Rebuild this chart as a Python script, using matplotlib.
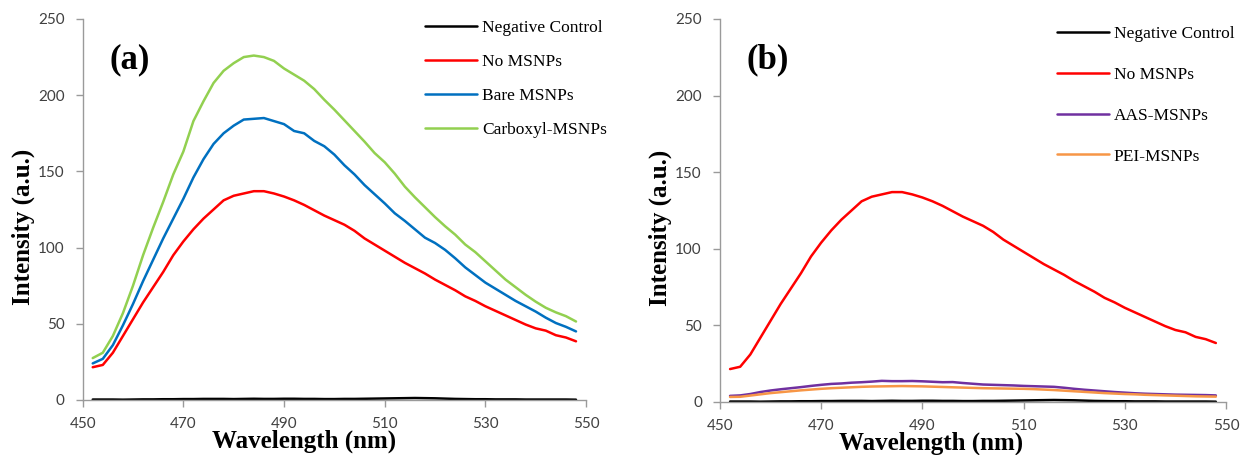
"""Fluorescence emission spectra: (a) bare/carboxyl MSNPs, (b) AAS/PEI MSNPs."""

import matplotlib
matplotlib.use("Agg")
import matplotlib.pyplot as plt


WAVELENGTH = list(range(452, 549, 2))

NEGATIVE_CONTROL = [
    0.3, 0.3, 0.3, 0.2, 0.3, 0.4, 0.4, 0.5, 0.5, 0.6, 0.6, 0.7, 0.7, 0.7, 0.6, 0.7, 0.8,
    0.7, 0.7, 0.8, 0.8, 0.7, 0.7, 0.6, 0.6, 0.7, 0.7, 0.8, 0.9, 1.0, 1.1, 1.2, 1.3,
    1.2, 1.1, 0.9, 0.7, 0.6, 0.5, 0.5, 0.4, 0.4, 0.4, 0.3, 0.3, 0.3, 0.3, 0.3, 0.2,
]
NO_MSNPS = [
    21.5, 23, 31, 42, 53, 64, 74, 84, 95, 104, 112, 119, 125, 131, 134, 135.5, 137,
    137, 135.5, 133.5, 131, 128, 124.5, 121, 118, 115, 111, 106, 102, 98, 94, 90, 86.5,
    83, 79, 75.5, 72, 68, 65, 61.5, 58.5, 55.5, 52.5, 49.5, 47, 45.5, 42.5, 41, 38.5,
]
BARE_MSNPS = [
    24, 27, 36, 49, 63, 78, 92, 106, 119, 132, 146, 158, 168, 175, 180, 184, 184.5,
    185, 183, 181, 176.5, 175, 170, 166.5, 161, 154, 148, 141, 135, 129, 122.5, 117.5, 112,
    106.5, 103, 98.5, 93, 87, 82, 77, 73, 69, 65, 61.5, 58, 54, 50.5, 48, 45,
]
CARBOXYL_MSNPS = [
    27.5, 31, 42, 57, 75, 95, 113, 130, 148, 163, 183, 196, 208, 216, 221, 225, 226,
    225, 222.5, 217.5, 213.5, 209.5, 204, 197, 190.5, 183.5, 176.5, 169.5, 162, 156, 148.5, 140, 133,
    126.5, 120, 114, 108.5, 102, 97, 91, 85, 79, 74, 69, 64.5, 60.5, 57.5, 55, 51.5,
]
AAS_MSNPS = [
    4, 4.3, 5.2, 6.5, 7.5, 8.3, 9, 9.7, 10.5, 11.2, 11.8, 12.1, 12.6, 12.9, 13.3, 13.8, 13.6,
    13.6, 13.7, 13.5, 13.2, 12.9, 13, 12.4, 11.9, 11.4, 11.2, 11, 10.8, 10.5, 10.3, 10.1, 9.9,
    9.3, 8.6, 8, 7.5, 7, 6.5, 6.1, 5.7, 5.4, 5.2, 5, 4.8, 4.7, 4.6, 4.5, 4.3,
]
PEI_MSNPS = [
    3.3, 3.4, 4.2, 5, 5.8, 6.4, 7, 7.6, 8.1, 8.6, 9, 9.3, 9.6, 9.9, 10.1, 10.2, 10.3,
    10.4, 10.3, 10.2, 10, 9.8, 9.6, 9.4, 9.2, 9, 8.9, 8.8, 8.7, 8.6, 8.4, 8.1, 7.8,
    7.4, 7, 6.6, 6.2, 5.8, 5.5, 5.2, 5, 4.7, 4.5, 4.3, 4.1, 3.9, 3.7, 3.6, 3.5,
]

PANEL_A = [
    ("Negative Control", NEGATIVE_CONTROL, "#000000"),
    ("No MSNPs", NO_MSNPS, "#FF0000"),
    ("Bare MSNPs", BARE_MSNPS, "#0070C0"),
    ("Carboxyl-MSNPs", CARBOXYL_MSNPS, "#92D050"),
]
PANEL_B = [
    ("Negative Control", NEGATIVE_CONTROL, "#000000"),
    ("No MSNPs", NO_MSNPS, "#FF0000"),
    ("AAS-MSNPs", AAS_MSNPS, "#7030A0"),
    ("PEI-MSNPs", PEI_MSNPS, "#F79646"),
]

X_TICKS = [450, 470, 490, 510, 530, 550]
Y_TICKS = [0, 50, 100, 150, 200, 250]

SERIF = ["Liberation Serif", "DejaVu Serif"]
SPINE_GREY = "#9A9A9A"


def _draw_panel(fig, rect, series, tag, xlabel_x, legend_anchor, label_spacing):
    ax = fig.add_axes(rect)
    for label, values, color in series:
        ax.plot(WAVELENGTH, values, color=color, lw=1.8, label=label,
                clip_on=False, solid_capstyle="round")

    ax.set_xlim(450, 550)
    ax.set_ylim(0, 250)
    ax.set_xticks(X_TICKS)
    ax.set_yticks(Y_TICKS)
    for side in ("top", "right"):
        ax.spines[side].set_visible(False)
    for side in ("left", "bottom"):
        ax.spines[side].set_color(SPINE_GREY)
        ax.spines[side].set_linewidth(1.0)
    ax.tick_params(axis="both", direction="out", length=5, width=1.0, color=SPINE_GREY,
                   labelsize=11, labelcolor="#404040")
    ax.tick_params(axis="y", pad=8)
    ax.tick_params(axis="x", pad=7)
    for lbl in ax.get_xticklabels() + ax.get_yticklabels():
        lbl.set_family("Lato")

    ax.set_xlabel("Wavelength (nm)", family=SERIF, weight="bold", fontsize=18)
    ax.set_ylabel("Intensity (a.u.)", family=SERIF, weight="bold", fontsize=18)
    ax.xaxis.set_label_coords(xlabel_x, -0.108)
    ax.yaxis.set_label_coords(-0.118, 0.455)
    ax.xaxis.label.set_va("center")
    ax.yaxis.label.set_va("center")

    ax.text(0.094, 0.893, tag, transform=ax.transAxes, ha="center", va="center",
            family=SERIF, weight="bold", fontsize=25)

    ax.legend(loc="upper left", bbox_to_anchor=legend_anchor, bbox_transform=fig.transFigure,
              frameon=False, prop={"family": SERIF, "size": 12.5}, handlelength=3.0,
              handletextpad=0.3, labelspacing=label_spacing, borderpad=0, borderaxespad=0)
    return ax


def main():
    fig = plt.figure(figsize=(12.43, 4.55), dpi=100)
    _draw_panel(fig, [0.0665, 0.1209, 0.405, 0.8374], PANEL_A, "(a)", 0.44,
                (0.342, 0.957), 1.03)
    _draw_panel(fig, [0.5792, 0.1165, 0.4071, 0.8418], PANEL_B, "(b)", 0.417,
                (0.850, 0.943), 1.42)
    fig.savefig("out.png", dpi=100)


if __name__ == "__main__":
    main()
